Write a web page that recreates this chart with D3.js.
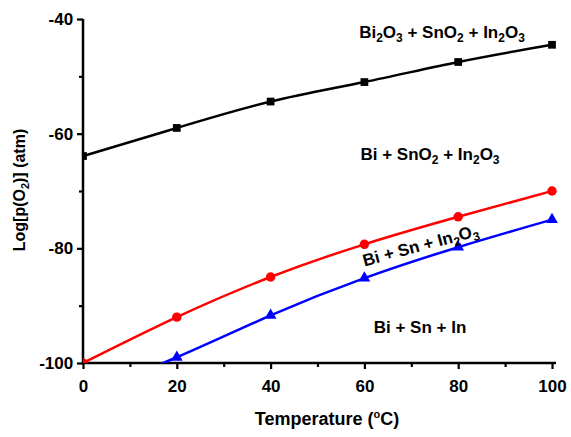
<!DOCTYPE html>
<html><head><meta charset="utf-8">
<script src="https://cdn.jsdelivr.net/npm/d3@7"></script>
<style>body{margin:0;background:#fff}svg{font-family:Arial,"Liberation Sans",sans-serif;font-weight:bold}</style>
</head><body><svg id="c" width="571" height="437"></svg>
<script>
const temps = [0, 20, 40, 60, 80, 100];
const oxideValues = [-63.9, -59.0, -54.4, -51.0, -47.5, -44.5];
const redValues = [-100.0, -92.0, -85.0, -79.3, -74.5, -70.0];
const blueValues = [-105.5, -99.0, -91.7, -85.2, -79.8, -75.0];
const xTicks = [0, 20, 40, 60, 80, 100];
const yTicks = [-100, -80, -60, -40];
const regionLabels = ["Bi₂O₃ + SnO₂ + In₂O₃", "Bi + SnO₂ + In₂O₃", "Bi + Sn + In₂O₃", "Bi + Sn + In"];

const svg = d3.select("#c");
const x = d3.scaleLinear().domain([0, 100]).range([83, 552]);
const y = d3.scaleLinear().domain([-100, -40]).range([363, 19]);

svg.append("clipPath").attr("id", "clip").append("rect")
  .attr("x", 83).attr("y", 10).attr("width", 480).attr("height", 353);

const xAx = svg.append("g").attr("transform", "translate(0,363)")
  .call(d3.axisBottom(x).tickValues(d3.range(0, 101, 10)).tickSize(6).tickFormat(d => xTicks.includes(d) ? d : ""));
const yAx = svg.append("g").attr("transform", "translate(83,0)")
  .call(d3.axisLeft(y).tickValues(d3.range(-100, -39, 10)).tickSize(6).tickFormat(d => yTicks.includes(d) ? d : ""));
[xAx, yAx].forEach(g => {
  g.select(".domain").attr("stroke-width", 2.5);
  g.selectAll(".tick line").attr("stroke-width", 2.2);
  g.selectAll("text").attr("font-size", 17).attr("font-family", "Arial,'Liberation Sans',sans-serif").attr("font-weight", "bold").attr("fill", "#000");
});
xAx.select(".domain").attr("d", "M83,0H556");
yAx.select(".domain").attr("d", "M0,363V19");
xAx.selectAll(".tick").filter(d => !xTicks.includes(d)).select("line").attr("y2", 4);
yAx.selectAll(".tick").filter(d => !yTicks.includes(d)).select("line").attr("x2", -4);
xAx.selectAll("text").attr("dy", "1.15em");
yAx.selectAll("text").attr("dx", "-0.05em");

const line = d3.line().x(d => x(d[0])).y(d => y(d[1])).curve(d3.curveNatural);
const series = [
  {vals: oxideValues, color: "#000", shape: d3.symbolSquare, size: 60},
  {vals: redValues, color: "#f00", shape: d3.symbolCircle, size: 70},
  {vals: blueValues, color: "#00f", shape: d3.symbolTriangle, size: 60}
];
const plot = svg.append("g").attr("clip-path", "url(#clip)");
series.forEach(s => {
  const pts = temps.map((t, i) => [t, s.vals[i]]);
  plot.append("path").attr("d", line(pts)).attr("fill", "none").attr("stroke", s.color).attr("stroke-width", 2.5);
  plot.selectAll(null).data(pts).enter().append("path")
    .attr("d", d3.symbol().type(s.shape).size(s.size))
    .attr("transform", d => `translate(${x(d[0])},${y(d[1])})`)
    .attr("fill", s.color);
});

function sub(txt, sel, small) {
  const parts = txt.split(/([₂₃])/).filter(p => p);
  let lowered = false;
  parts.forEach(p => {
    if (p === "₂" || p === "₃") {
      sel.append("tspan").attr("font-size", small).attr("dy", lowered ? 0 : 4).text(p === "₂" ? "2" : "3");
      lowered = true;
    } else {
      sel.append("tspan").attr("dy", lowered ? -4 : 0).text(p);
      lowered = false;
    }
  });
}
const lab = [[442, 38, 0], [430, 160, 0], [422, 251, -15], [420, 333, 0]];
regionLabels.forEach((t, i) => {
  const el = svg.append("text").attr("text-anchor", "middle").attr("font-size", 17)
    .attr("transform", `translate(${lab[i][0]},${lab[i][1]}) rotate(${lab[i][2]})`);
  sub(t, el, 12);
});

const xt = svg.append("text").attr("x", 327).attr("y", 425).attr("text-anchor", "middle").attr("font-size", 18);
xt.append("tspan").text("Temperature (");
xt.append("tspan").attr("font-size", 11).attr("dy", -7).text("o");
xt.append("tspan").attr("dy", 7).text("C)");
const yt = svg.append("text").attr("transform", "translate(25,190) rotate(-90)").attr("text-anchor", "middle").attr("font-size", 16);
yt.append("tspan").text("Log[p(O");
yt.append("tspan").attr("font-size", 11).attr("dy", 4).text("2");
yt.append("tspan").attr("dy", -4).text(")] (atm)");
</script></body></html>
